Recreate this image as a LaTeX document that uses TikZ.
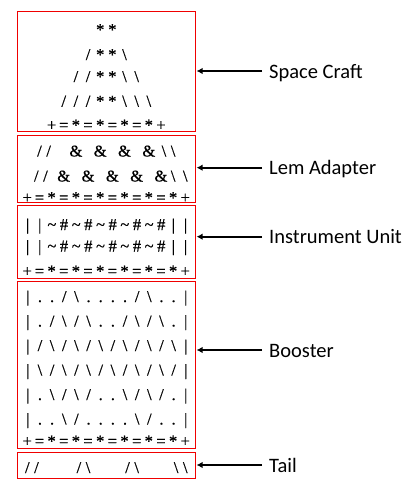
\documentclass[tikz,border=0pt]{standalone}
\usepackage{fontspec}
\setmainfont{Liberation Serif}
\newfontfamily\asciifont[FakeBold=0.6]{Liberation Serif}
\newfontfamily\labfont{Carlito}
\usetikzlibrary{arrows.meta}
\definecolor{boxred}{RGB}{240,0,0}
\newlength\mpitch
\setlength\mpitch{12.15pt}
\ExplSyntaxOn
\NewDocumentCommand\mono{m}{
  \str_map_inline:nn {#1}{
    \str_case:nnF {##1}{
      {<}{\kern-3pt}
      {>}{\kern3pt}
    }{\makebox[\mpitch]{\str_case:nnF{##1}{
        {B}{\textbackslash}
        {H}{\#}
        {T}{\textasciitilde}
        {A}{\&}
        {_}{}
      }{##1}}}
  }
}
\ExplSyntaxOff
\begin{document}
\begin{tikzpicture}[x=1pt,y=-1pt,
  box/.style={draw=boxred, line width=1.3pt, inner sep=0pt, minimum width=178pt},
  ascii/.style={anchor=base, inner sep=0pt, font=\asciifont\fontsize{16.5}{16.5}\selectfont},
  lab/.style={anchor=west, inner xsep=7pt, inner ysep=0pt, text height=14pt, text depth=0pt, font=\labfont\fontsize{20.5}{24}\selectfont},
  arr/.style={-{Latex[length=6pt,width=6.5pt]}, line width=1.8pt, shorten >=0.4pt}]
\useasboundingbox (0,0) rectangle (419,490);
% boxes
\node[box, minimum height=120pt] (sc)   at (106.5,71.5) {};
\node[box, minimum height=67pt]  (lem)  at (106.5,169) {};
\node[box, minimum height=73pt]  (iu)   at (106.5,242) {};
\node[box, minimum height=167pt] (boo)  at (106.5,365) {};
\node[box, minimum height=26pt]  (tail) at (106.5,465.5) {};
% space craft
\node[ascii] (sc1) at (106.3,35)    {\mono{**}};
\node[ascii] (sc2) at (106.3,60)    {\mono{/**B}};
\node[ascii] (sc3) at (106.3,82)    {\mono{//**BB}};
\node[ascii] (sc4) at (106.3,106.6) {\mono{///**BBB}};
\node[ascii] (sc5) at (106.3,130.5) {\mono{+=*=*=*=*+}};
% lem adapter
\node[ascii] (lem1) at (106.3,156.5) {\mono{/</>_A_A_A_A>B<B}};
\node[ascii] (lem2) at (106.3,181.5) {\mono{>>>/</<<_A_A_A_A_ABB}};
\node[ascii] (lem3) at (106.3,203)   {\mono{+=*=*=*=*=*=*+}};
% instrument unit
\node[ascii] (iu1) at (106.6,230)   {\mono{||THTHTHTHTH||}};
\node[ascii] (iu2) at (106.6,251.5) {\mono{||THTHTHTHTH||}};
\node[ascii] (iu3) at (106.3,276.5) {\mono{+=*=*=*=*=*=*+}};
% booster
\node[ascii] (b1) at (106.8,302)   {\mono{|../B..../B..|}};
\node[ascii] (b2) at (106.8,326.5) {\mono{|./B/B../B/B.|}};
\node[ascii] (b3) at (106.8,351)   {\mono{|/B/B/B/B/B/B|}};
\node[ascii] (b4) at (106.8,375.5) {\mono{|B/B/B/B/B/B/|}};
\node[ascii] (b5) at (106.8,400)   {\mono{|.B/B/..B/B/.|}};
\node[ascii] (b6) at (106.8,424.5) {\mono{|..B/....B/..|}};
\node[ascii] (b7) at (106.3,446.5) {\mono{+=*=*=*=*=*=*+}};
% tail
\node[ascii] (t1) at (106.3,473) {\mono{/</>__>/<B__>/<B__>B<B}};
% labels and arrows
\node[lab] (lsc)   at (262,71)    {Space Craft};
\node[lab] (llem)  at (262,167.7) {Lem Adapter};
\node[lab] (liu)   at (262,236.7) {Instrument Unit};
\node[lab] (lboo)  at (262,350)   {Booster};
\node[lab] (ltail) at (262,465)   {Tail};
\draw[arr] (lsc.west)   -- (lsc.west -| sc.east);
\draw[arr] (llem.west)  -- (llem.west -| lem.east);
\draw[arr] (liu.west)   -- (liu.west -| iu.east);
\draw[arr] (lboo.west)  -- (lboo.west -| boo.east);
\draw[arr] (ltail.west) -- (ltail.west -| tail.east);
\end{tikzpicture}
\end{document}
